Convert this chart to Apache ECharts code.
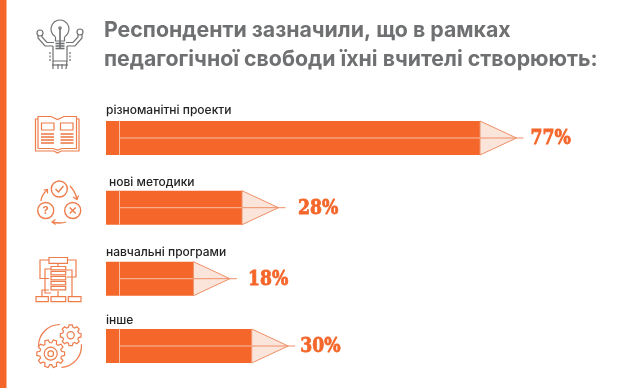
<!DOCTYPE html>
<html><head><meta charset="utf-8">
<style>html,body{margin:0;padding:0;background:#fff}#c{width:620px;height:388px}</style>
<script src="https://cdn.jsdelivr.net/npm/echarts@6/dist/echarts.min.js"></script></head>
<body><div id="c"></div>
<script>
const titleText = 'Респонденти зазначили, що в рамках\nпедагогічної свободи їхні вчителі створюють:';
const categories = ['різноманітні проекти', 'нові методики', 'навчальні програми', 'інше'];
const values = [77, 28, 18, 30];
const valueLabels = ['77%', '28%', '18%', '30%'];

// layout only
const rowCenters = [138, 207.7, 278.7, 346];
const labelDx = [0, 3, 0, 0];
const labelDy = [-28, -25.5, -26, -26];
const pctDx = [50.5, 56, 54.5, 48.5];
const ORANGE = '#f4662a', TIP = '#fbe5db', TIPLINE = '#ee8f66', PALE = '#f9c0a3';
const ICON = '#ee7d4c', GRAY = '#6f7072';
const BAR_H = 34, TIP_W = 36.5, NIB = 7;

const chart = echarts.init(document.getElementById('c'), null, {renderer: 'canvas'});

const grid = rowCenters.map(c => ({left: 106, width: 485.7, top: c - BAR_H / 2, height: BAR_H}));
const xAxis = rowCenters.map((_, i) => ({gridIndex: i, type: 'value', min: 0, max: 100, show: false}));
const yAxis = rowCenters.map((_, i) => ({gridIndex: i, type: 'category', data: [categories[i]], show: false}));

const series = categories.map((cat, i) => ({
  type: 'custom', xAxisIndex: i, yAxisIndex: i, clip: false, silent: true,
  data: [[values[i], cat]],
  renderItem(params, api) {
    const end = api.coord([api.value(0), 0]);
    const start = api.coord([0, 0]);
    const x0 = start[0], x1 = end[0], y = end[1];
    const t = y - BAR_H / 2, b = y + BAR_H / 2;
    return {type: 'group', children: [
      {type: 'rect', shape: {x: x0, y: t, width: x1 - x0, height: BAR_H}, style: {fill: ORANGE}},
      {type: 'polygon', shape: {points: [[x1, t], [x1 + TIP_W, y], [x1, b]]}, style: {fill: TIP, stroke: TIPLINE, lineWidth: 1}},
      {type: 'line', shape: {x1: x0 + 13.5, y1: t, x2: x0 + 13.5, y2: b}, style: {stroke: PALE, lineWidth: 1}},
      {type: 'line', shape: {x1: x0 + 13.5, y1: y, x2: x1, y2: y}, style: {stroke: PALE, lineWidth: 1}},
      {type: 'line', shape: {x1: x1, y1: y, x2: x1 + TIP_W + NIB, y2: y}, style: {stroke: TIPLINE, lineWidth: 1}},
      {type: 'text', style: {x: x0 + labelDx[i], y: y + labelDy[i], text: categories[i], fill: '#222',
        fontFamily: 'Inter', fontWeight: 500, fontSize: 12, textAlign: 'left', textVerticalAlign: 'middle'}},
      {type: 'text', x: x1 + pctDx[i], y: y + 1, scaleX: 0.84, style: {x: 0, y: 0, text: valueLabels[i], fill: ORANGE, stroke: ORANGE, lineWidth: 0.8,
        fontFamily: 'DejaVu Serif', fontWeight: 'bold', fontSize: 20.5, textAlign: 'left', textVerticalAlign: 'middle'}}
    ]};
  }
}));

// decorative icons
const g = [];
function line(pts, color, w) { g.push({type: 'polyline', silent: true, shape: {points: pts}, style: {fill: 'none', stroke: color, lineWidth: w || 1.2}}); }
function circ(cx, cy, r, color, w) { g.push({type: 'circle', silent: true, shape: {cx, cy, r}, style: {fill: 'none', stroke: color, lineWidth: w || 1.2}}); }
function box(x, y, width, height, color, w) { g.push({type: 'rect', silent: true, shape: {x, y, width, height}, style: {fill: 'none', stroke: color, lineWidth: w || 1.2}}); }
function arc(cx, cy, r, a, b, color, w) { g.push({type: 'arc', silent: true, shape: {cx, cy, r, startAngle: a, endAngle: b, clockwise: true}, style: {fill: 'none', stroke: color, lineWidth: w || 1.2}}); }
function curve(x1, y1, cx, cy, x2, y2, color) { g.push({type: 'bezierCurve', silent: true, shape: {x1, y1, x2, y2, cpx1: cx, cpy1: cy}, style: {fill: 'none', stroke: color, lineWidth: 1.3}}); }
function gear(cx, cy, rOut, rIn, n, color) {
  const pts = [], step = Math.PI * 2 / n;
  for (let k = 0; k < n; k++) {
    const a = k * step;
    [[-0.36, rIn], [-0.2, rOut], [0.2, rOut], [0.36, rIn]].forEach(([f, r]) => pts.push([cx + r * Math.cos(a + f * step), cy + r * Math.sin(a + f * step)]));
  }
  g.push({type: 'polygon', silent: true, shape: {points: pts}, style: {fill: '#fff', stroke: color, lineWidth: 1.2}});
}

// side strip
g.push({type: 'rect', silent: true, shape: {x: 0, y: 0, width: 6.5, height: 388}, style: {fill: ORANGE}});

// bulb figure
arc(60, 29, 9, 2.1, 1.04 + Math.PI * 2, GRAY);
line([[55.5, 37], [55.5, 41], [64.5, 41], [64.5, 37]], GRAY);
line([[60, 28], [60, 48]], GRAY, 1.6);
circ(60, 28, 1.2, GRAY);
[43.5, 46, 48.5].forEach(y => line([[55.5, y], [64.5, y]], GRAY, 1.6));
circ(40, 33, 3, GRAY); circ(80, 32, 3, GRAY);
line([[38, 36], [38, 38], [45, 46], [53, 46]], GRAY);
line([[42, 35], [42, 37], [47, 42.5], [54, 42.5]], GRAY);
line([[82, 35], [82, 38], [75, 46], [67, 46]], GRAY);
line([[78, 35], [78, 37], [73, 42.5], [66, 42.5]], GRAY);
line([[53, 46], [53, 61], [67, 61], [67, 46]], GRAY);
line([[53, 61], [53, 69]], GRAY); line([[67, 61], [66, 69]], GRAY);
line([[58, 64], [58, 69]], GRAY); line([[62, 64], [62, 69]], GRAY);
line([[52, 65], [68, 65]], GRAY);
[52, 55.5, 59].forEach(y => { line([[50, y], [50, y + 2]], GRAY); line([[70, y], [70, y + 2]], GRAY); });

// book
line([[38, 119], [35.5, 119], [35.5, 151], [54, 151], [57.5, 153], [61, 151], [79, 151], [79, 119], [76.5, 119]], ICON);
line([[38, 148.5], [38, 116.5], [51, 116.5], [57.5, 119.5], [64, 116.5], [76.5, 116.5], [76.5, 148.5], [62, 148.5], [57.5, 150], [53, 148.5], [38, 148.5]], ICON);
box(41.5, 123, 12.5, 7, ICON, 1.2); box(60.5, 123, 12.5, 7, ICON, 1.2);
[134, 137, 140, 143].forEach(y => { line([[41, y], [54, y]], ICON, 1.6); line([[60.5, y], [73.5, y]], ICON, 1.6); });

// cycle
circ(59.3, 189, 8, ICON, 1.4); circ(45.7, 210.5, 8, ICON, 1.4); circ(72.7, 210.5, 8, ICON, 1.4);
line([[55.5, 189], [58.5, 192], [63.5, 186]], ICON, 1.4);
line([[69.7, 207.5], [75.7, 213.5]], ICON, 1.4); line([[75.7, 207.5], [69.7, 213.5]], ICON, 1.4);
g.push({type: 'text', silent: true, style: {x: 45.7, y: 210.5, text: '?', fill: ICON, font: 'bold 11px Inter', textAlign: 'center', textVerticalAlign: 'middle'}});
curve(70, 186, 75, 191, 77, 199, ICON); line([[73, 197], [77, 199.5], [78.5, 195.5]], ICON);
curve(66, 222, 60, 224, 52, 222, ICON); line([[55.5, 219.5], [52, 222], [55.5, 224.5]], ICON);
curve(41, 201, 41.5, 195, 47, 190, ICON); line([[43.5, 190], [47.5, 189.5], [47.5, 193.5]], ICON);

// flowchart
box(49, 257.5, 18.5, 5.8, ICON);
[268, 273, 278, 283, 288].forEach(y => box(51, y - 1.5, 14.7, 3.4, ICON));
line([[58, 263.3], [58, 266.5]], ICON);
line([[49, 260], [40, 260], [40, 278.5], [49, 278.5]], ICON);
line([[67.5, 260], [76, 260], [76, 277], [67, 277]], ICON);
line([[51, 269], [45, 269], [45, 293], [51, 293]], ICON);
line([[65.7, 270], [72, 270], [72, 296]], ICON);
line([[42, 296.5], [42, 290], [49, 290]], ICON);
line([[58, 291], [58, 296.5]], ICON);
box(36, 296.7, 12.3, 5, ICON); box(51, 296.7, 14.7, 5, ICON); box(68.3, 296.7, 12.7, 5, ICON);

// gears
arc(60, 346, 21.5, Math.PI * 1.0, Math.PI * 1.5, ICON);
arc(60, 346, 21.5, -0.08, Math.PI * 0.48, ICON);
gear(70.7, 335.3, 10.5, 8.2, 8, ICON); circ(70.7, 335.3, 3.6, ICON);
gear(50.7, 353.7, 14, 11, 10, ICON); circ(50.7, 353.7, 6.5, ICON); circ(50.7, 353.7, 2.8, ICON);

chart.setOption({
  animation: false,
  backgroundColor: '#fff',
  title: {text: titleText, left: 99, top: 11, textStyle: {fontFamily: 'Inter', fontWeight: 'bold', fontSize: 21.3, lineHeight: 29, color: GRAY}},
  grid, xAxis, yAxis, series, graphic: g
});
</script></body></html>
